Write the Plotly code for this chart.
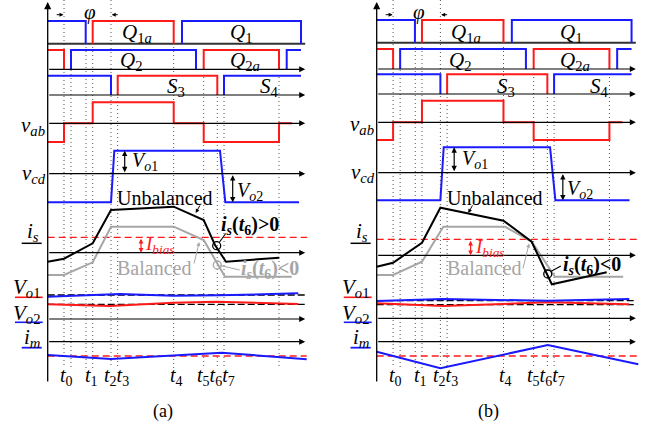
import plotly.graph_objects as go

W, H = 654, 427
FONT = "Liberation Serif"
BLUE = "#1a1aff"
RED = "#ff1a1a"
GRAY = "#a6a6a6"
BLACK = "#000000"

# ---------------- timing (units along the time axis, 0 = vertical axis) -------------
T_DOT = [16.3, 23.3, 38.3, 45.0, 63.3, 70.0, 126.0, 156.0, 169.6, 176.3, 231.3]
DOT_TOP = [0, 50, 47, 47, 0, 77, 47, 77, 97, 97, 77]
DOT_BOTTOM = 368
T_END = 257.5          # end of the row axes (arrow tips)

# gate signals: (start, end, colour, falls_at_end)
Q1_PULSES = [(0, 38.0, "b", True), (45.0, 126.0, "r", True), (134.3, 253.3, "b", True)]
Q2_PULSES = [(0, 16.3, "r", True), (23.3, 148.3, "b", True), (156.0, 231.3, "r", True), (239.0, 253.3, "b", False)]
S_PULSES = [(0, 63.3, "b", True), (70.0, 169.6, "r", True), (176.3, 253.3, "b", False)]

# v_ab three-level waveform
VAB_EDGES = [0, 16.3, 45.0, 126.0, 156.0, 231.3, 244.3]
VAB_LEVEL = ["lo", "zero", "hi", "zero", "lo", "zero"]

# v_cd waveform
VCD_T = [0, 63.3, 66.6, 172.3, 177.6, 251.3]
VCD_LEVEL = ["lo", "lo", "hi", "hi", "lo", "lo"]

# row levels (vertical positions) per panel
ROWS_A = dict(q1=43.7, q1h=21.0, q2=69.3, q2h=50.0, s=95.0, sh=75.7, vab=123.3, vabh=102.3, vabl=142.0,
              vcd=173.7, vcdh=150.7, vcdl=202.3, is_=252.7, ibias=237.3, vo=319.0, im=341.7, imbias=356.0)
ROWS_B = dict(q1=42.7, q1h=20.0, q2=69.0, q2h=49.0, s=94.0, sh=74.3, vab=122.3, vabh=100.7, vabl=140.0,
              vcd=172.7, vcdh=147.3, vcdl=200.3, is_=255.3, ibias=239.3, vo=318.3, im=341.7, imbias=356.0)

# i_s currents
IS_UNBAL_T_A = [0, 16.3, 45.0, 63.3, 126.0, 156.0, 167.3, 178.3, 231.6]
IS_UNBAL_A = [261.7, 258.7, 243.3, 210.0, 206.7, 220.0, 245.0, 261.7, 257.7]
IS_BAL_T_A = [0, 16.3, 45.0, 63.3, 126.0, 156.0, 177.3, 244.0]
IS_BAL_A = [275.0, 275.0, 262.3, 226.7, 226.7, 240.0, 276.7, 276.7]

IS_UNBAL_T_B = [0, 16.3, 45.0, 63.3, 126.0, 154.0, 174.0, 228.6]
IS_UNBAL_B = [266.7, 262.7, 242.7, 207.7, 220.7, 241.7, 284.3, 272.3]
IS_BAL_T_B = [0, 16.3, 45.0, 66.2, 127.5, 154.0, 177.2, 245.0]
IS_BAL_B = [275.0, 275.0, 261.7, 226.7, 226.7, 241.7, 276.7, 276.7]

# capacitor voltages
VO1_T_A = [0, 72.3, 125.3, 172.3, 250.6]
VO1_A = [296.7, 294.0, 295.7, 295.3, 293.3]
VO2_T_A = [0, 62.3, 125.3, 169.0, 250.6]
VO2_A = [304.3, 306.0, 302.7, 301.7, 304.0]
VO_REF_A = [295.0, 304.3]

VO1_T_B = [0, 66.0, 170.0, 251.0]
VO1_B = [301.0, 299.0, 300.8, 299.0]
VO2_T_B = [0, 66.0, 170.0, 251.0]
VO2_B = [303.3, 306.0, 302.3, 304.3]
VO_REF_B = [300.7, 304.7]

# magnetising current
IM_T_A = [0, 63.3, 174.0, 259.0]
IM_A = [355.0, 359.0, 352.7, 359.3]
IM_T_B = [0, 63.3, 170.0, 260.0]
IM_B = [351.7, 368.3, 345.0, 364.3]

fig = go.Figure()
ann = []


def line(xa, xs, ys, color=BLACK, width=1.3, dash=None, shape="linear"):
    fig.add_trace(go.Scatter(x=xs, y=ys, xaxis=xa, yaxis="y", mode="lines",
                             line=dict(color=color, width=width, dash=dash, shape=shape),
                             hoverinfo="skip", showlegend=False))


def arrow(xa, x0, y0, x1, y1, color=BLACK, width=1.2, size=1.0, both=False, head=2):
    d = dict(xref=xa, yref="y", axref=xa, ayref="y", x=x1, y=y1, ax=x0, ay=y0, text="",
             showarrow=True, arrowhead=head, arrowsize=size, arrowwidth=width, arrowcolor=color,
             standoff=0, startstandoff=0)
    if both:
        d.update(arrowside="end+start", startarrowhead=head, startarrowsize=size)
    ann.append(d)


def text(xa, x, y, s, size=20, color=BLACK, xanchor="center"):
    ann.append(dict(xref=xa, yref="y", x=x, y=y, text=s, showarrow=False, xanchor=xanchor,
                    yanchor="middle", font=dict(family=FONT, size=size, color=color)))


def pulses(xa, plist, base, high):
    for (s, e, c, fall) in plist:
        col = BLUE if c == "b" else RED
        xs, ys = [], []
        if s > 0:
            xs += [s, s]
            ys += [base, high]
        else:
            xs += [s]
            ys += [high]
        xs += [e]
        ys += [high]
        if fall:
            xs += [e]
            ys += [base]
        line(xa, xs, ys, col, 2)


def panel(xa, R, is_data, vo_data, im_data, label, labels_is):
    # dotted time lines
    for t, top in zip(T_DOT, DOT_TOP):
        line(xa, [t, t], [top, DOT_BOTTOM], "#555555", 1, dash="1px,3px")
    # main vertical axis
    arrow(xa, 0, 383, 0, 2, width=1.3, size=1.1)
    # row 1 baseline
    line(xa, [0, T_END], [R["q1"], R["q1"]], "#333333", 2)
    for key in ["q2", "s", "vab", "vcd", "is_", "vo", "im"]:
        arrow(xa, 0, R[key], T_END, R[key], width=1.2, size=1.0)
    # gate signals
    pulses(xa, Q1_PULSES, R["q1"], R["q1h"])
    pulses(xa, Q2_PULSES, R["q2"], R["q2h"])
    pulses(xa, S_PULSES, R["s"], R["sh"])
    # v_ab
    lvl = {"lo": R["vabl"], "zero": R["vab"], "hi": R["vabh"]}
    vx = VAB_EDGES
    vy = [lvl[k] for k in VAB_LEVEL] + [lvl[VAB_LEVEL[-1]]]
    line(xa, vx, vy, RED, 2, shape="hv")
    # v_cd
    lv = {"lo": R["vcdl"], "hi": R["vcdh"]}
    line(xa, VCD_T, [lv[k] for k in VCD_LEVEL], BLUE, 2)
    arrow(xa, 77, R["vcd"], 77, R["vcdh"], width=1.2, size=0.9, both=True)
    text(xa, 97.5, (R["vcd"] + R["vcdh"]) / 2 - 1, "<i>V</i><sub><i>o</i>1</sub>", 20)
    arrow(xa, 185, R["vcd"], 185, R["vcdl"], width=1.2, size=0.9, both=True)
    text(xa, 202.5, (R["vcd"] + R["vcdl"]) / 2 + 3, "<i>V</i><sub><i>o</i>2</sub>", 20)
    # i_s
    ut, uy, bt, by = is_data
    line(xa, [0, T_END + 2], [R["ibias"], R["ibias"]], RED, 1.3, dash="7px,4px")
    line(xa, bt, by, GRAY, 2)
    line(xa, ut, uy, BLACK, 2)
    arrow(xa, 93.3, R["ibias"], 93.3, R["is_"], color=RED, width=1.2, size=0.8, both=True)
    text(xa, 112.5, R["is_"] - 7.5, "<i>I</i><sub><i>bias</i></sub>", 19, RED)
    text(xa, 117.3, 198.3, "Unbalanced", 20)
    text(xa, 106.3, 267.5, "Balanced", 20, GRAY)
    for item in labels_is:
        kind = item[0]
        if kind == "circle":
            _, t, y, col = item
            fig.add_trace(go.Scatter(x=[t], y=[y], xaxis=xa, yaxis="y", mode="markers",
                                     marker=dict(symbol="circle-open", size=8, color=col,
                                                 line=dict(width=1.3, color=col)),
                                     hoverinfo="skip", showlegend=False))
        elif kind == "ptr":
            _, x0, y0, x1, y1, col = item
            arrow(xa, x0, y0, x1, y1, color=col, width=1.0, size=0.8)
        elif kind == "seg":
            _, x0, y0, x1, y1, col = item
            line(xa, [x0, x1], [y0, y1], col, 1.1)
        elif kind == "text":
            _, x, y, s, col = item
            text(xa, x, y, s, 20, col)
    # V_o rows
    t1, y1, t2, y2, ref = vo_data
    for r in ref:
        line(xa, [0, T_END], [r, r], BLACK, 1.3, dash="7px,3px")
    line(xa, t2, y2, RED, 2)
    line(xa, t1, y1, BLUE, 2)
    # i_m
    it, iy = im_data
    line(xa, [0, 259], [R["imbias"], R["imbias"]], RED, 1.6, dash="7px,4px")
    line(xa, it, iy, BLUE, 2)
    # phi
    text(xa, 42.5, 11.5, "<i>φ</i>", 21)
    arrow(xa, 7.5, 14.7, 15.8, 14.7, width=1.0, size=0.8)
    arrow(xa, 71.5, 14.7, 64.0, 14.7, width=1.0, size=0.8)
    # gate labels
    text(xa, 89.0, 33.3, "<i>Q</i><sub>1<i>a</i></sub>", 21)
    text(xa, 194.0, 33.3, "<i>Q</i><sub>1</sub>", 21)
    text(xa, 83.5, 61.0, "<i>Q</i><sub>2</sub>", 21)
    text(xa, 197.5, 61.0, "<i>Q</i><sub>2<i>a</i></sub>", 21)
    text(xa, 128.5, 86.5, "<i>S</i><sub>3</sub>", 21)
    text(xa, 221.5, 86.5, "<i>S</i><sub>4</sub>", 21)
    # left labels
    text(xa, -14.7, R["vab"] + 2.5, "<i>v</i><sub><i>ab</i></sub>", 21)
    text(xa, -14.0, R["vcd"] + 0.5, "<i>v</i><sub><i>cd</i></sub>", 21)
    text(xa, -14.7, 232.0, "<i>i</i><sub><i>s</i></sub>", 21)
    line(xa, [-26, -6], [243.3, 243.3], BLACK, 1.5)
    text(xa, -20.5, 287.5, "<i>V</i><sub><i>o</i>1</sub>", 21)
    line(xa, [-32.7, -5], [297.3, 297.3], RED, 1.6)
    text(xa, -20.5, 313.5, "<i>V</i><sub><i>o</i>2</sub>", 21)
    line(xa, [-32.7, -5], [322.3, 322.3], BLUE, 1.6)
    text(xa, -15.7, 337.5, "<i>i</i><sub><i>m</i></sub>", 21)
    line(xa, [-26, -6], [347.7, 347.7], BLUE, 1.8)
    # time labels
    text(xa, 18.5, 376.5, "<i>t</i><sub>0</sub>", 20)
    text(xa, 44.0, 376.5, "<i>t</i><sub>1</sub>", 20)
    text(xa, 68.5, 376.5, "<i>t</i><sub>2</sub><i>t</i><sub>3</sub>", 20)
    text(xa, 128.5, 376.5, "<i>t</i><sub>4</sub>", 20)
    text(xa, 168.5, 376.5, "<i>t</i><sub>5</sub><i>t</i><sub>6</sub><i>t</i><sub>7</sub>", 20)
    text(xa, label[1], 411.5, label[0], 18)


IS_LABELS_A = [
    ("ptr", 153.0, 204.0, 148.0, 213.0, BLACK),
    ("ptr", 146.0, 265.0, 151.5, 242.0, GRAY),
    ("circle", 169.0, 245.7, BLACK),
    ("seg", 171.5, 242.5, 178.0, 233.5, BLACK),
    ("text", 202.5, 225.7, "<b><i>i</i><sub><i>s</i></sub>(<i>t</i><sub>6</sub>)&gt;0</b>", BLACK),
    ("circle", 169.6, 265.0, GRAY),
    ("seg", 172.5, 265.5, 192.0, 270.0, GRAY),
    ("text", 222.5, 269.0, "<b><i>i</i><sub><i>s</i></sub>(<i>t</i><sub>6</sub>)&lt;0</b>", GRAY),
]
IS_LABELS_B = [
    ("ptr", 96.0, 204.0, 91.0, 213.0, BLACK),
    ("ptr", 145.0, 270.0, 151.5, 243.5, GRAY),
    ("circle", 170.0, 274.0, BLACK),
    ("seg", 173.0, 271.5, 183.0, 266.0, BLACK),
    ("text", 214.0, 265.7, "<b><i>i</i><sub><i>s</i></sub>(<i>t</i><sub>6</sub>)&lt;0</b>", BLACK),
]

panel("x", ROWS_A, (IS_UNBAL_T_A, IS_UNBAL_A, IS_BAL_T_A, IS_BAL_A),
      (VO1_T_A, VO1_A, VO2_T_A, VO2_A, VO_REF_A), (IM_T_A, IM_A), ("(a)", 115.3), IS_LABELS_A)
panel("x2", ROWS_B, (IS_UNBAL_T_B, IS_UNBAL_B, IS_BAL_T_B, IS_BAL_B),
      (VO1_T_B, VO1_B, VO2_T_B, VO2_B, VO_REF_B), (IM_T_B, IM_B), ("(b)", 111.5), IS_LABELS_B)

fig.update_layout(
    width=W, height=H, margin=dict(l=0, r=0, t=0, b=0),
    paper_bgcolor="white", plot_bgcolor="white",
    xaxis=dict(domain=[0, 0.5], range=[-47.7, 279.3], visible=False, fixedrange=True),
    xaxis2=dict(domain=[0.5, 1], range=[-49.4, 275.6], visible=False, fixedrange=True),
    yaxis=dict(range=[H, 0], visible=False, fixedrange=True),
    annotations=ann,
    showlegend=False,
)

fig.write_html("out.html")
